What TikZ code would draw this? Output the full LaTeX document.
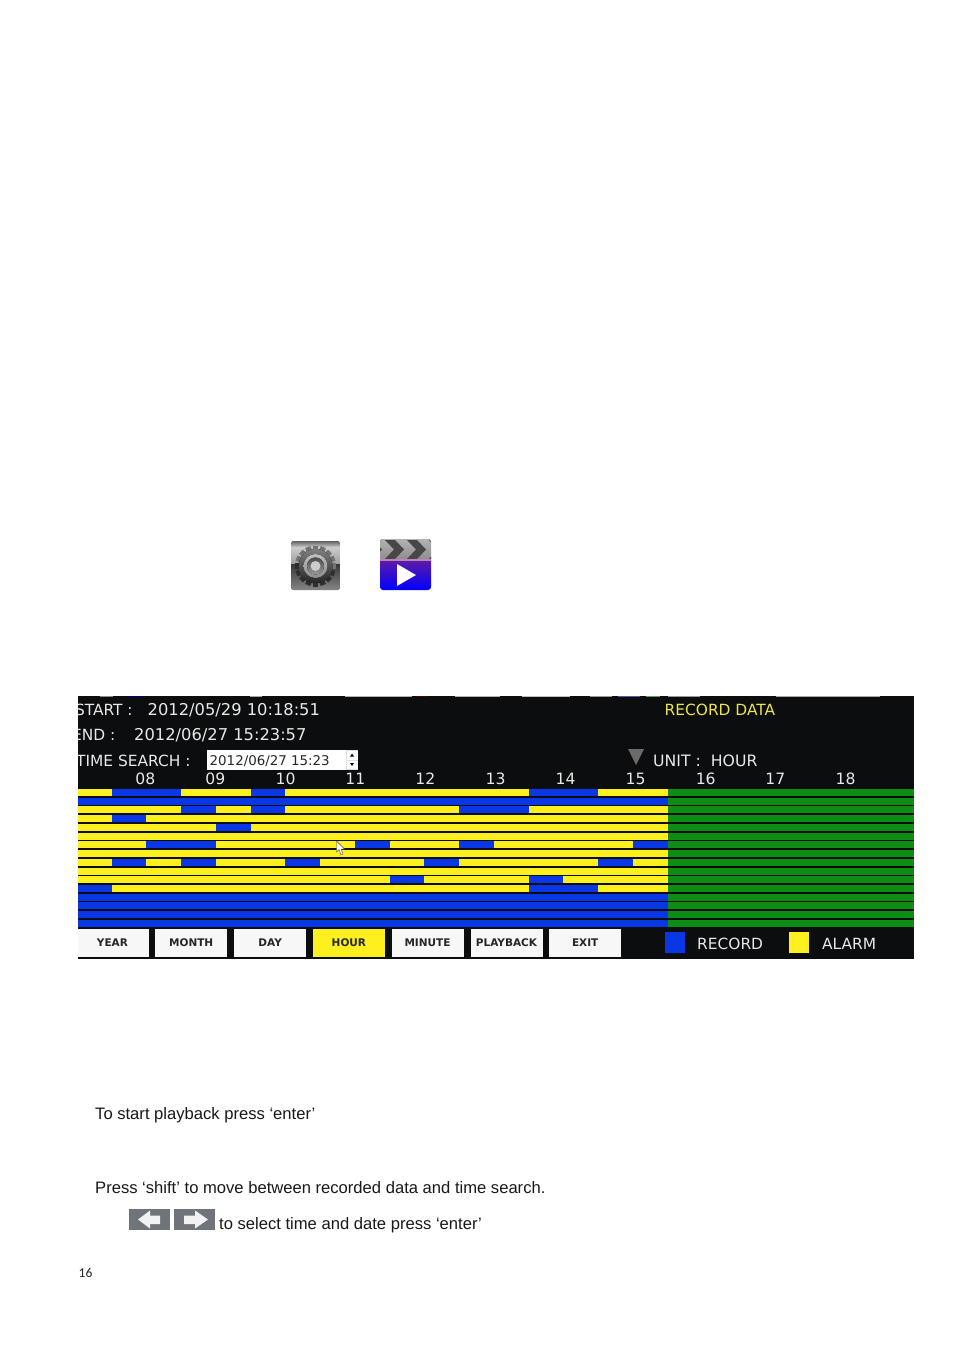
\documentclass[tikz,border=0pt]{standalone}
\usepackage{fontspec}
\setmainfont{Liberation Sans}
\newfontfamily\osd{DejaVu Sans}
\newfontfamily\pagenum{Carlito}
\definecolor{panelbg}{HTML}{0C0D0E}
\definecolor{barblue}{HTML}{0A37E6}
\definecolor{baryel}{HTML}{FDF01E}
\definecolor{bargreen}{HTML}{0E8C14}
\definecolor{osdtext}{HTML}{E8E8E8}
\definecolor{osdyel}{HTML}{EBE54A}
\definecolor{keygray}{HTML}{6E747A}
\definecolor{clappurple}{HTML}{5E1CA4}
\tikzset{
  x=1pt,y=-1pt,
  bodytext/.style={anchor=base west,inner sep=0pt,font=\fontsize{16.6}{19}\selectfont,text=black!90},
  osdlabel/.style={anchor=base west,inner sep=0pt,font=\osd\fontsize{15.4}{18}\selectfont,text=osdtext},
  osdvalue/.style={anchor=base west,inner sep=0pt,font=\osd\fontsize{16.3}{18}\selectfont,text=osdtext},
  hourlabel/.style={anchor=base,inner sep=0pt,font=\osd\fontsize{15.6}{18}\selectfont,text=osdtext},
  btn/.style={fill=white!97!black,draw=none,minimum height=28.7pt,minimum width=72pt,inner sep=0pt,anchor=north west,text=black!85,font=\osd\bfseries\fontsize{10.5}{12}\selectfont},
  keybox/.style={fill=keygray,draw=none},
  keyarrow/.style={fill=white!95!black,draw=none}
}
\newcommand{\rowy}[1]{round(789+8.73*#1)}
\newcommand{\ux}[1]{(111.7+34.75*(#1-1))}
\newcommand{\bluebar}[3]{\fill[barblue] ({max(78,\ux{#2})},{\rowy{#1}}) rectangle ({\ux{#3}},{\rowy{#1}+7.3});}
\begin{document}
\begin{tikzpicture}
\useasboundingbox (0,0) rectangle (954,1348);
\fill[white] (0,0) rectangle (954,1348);
% gear icon
\begin{scope}
\clip[rounded corners=3pt] (291,541) rectangle (340,590);
\fill[top color=black!62,bottom color=black!22] (291,541) rectangle (340,547);
\fill[top color=black!20,bottom color=black!38] (291,547) rectangle (340,564);
\fill[top color=black!78,bottom color=black!48] (291,564) rectangle (340,590);
\foreach \a in {0,22.5,...,157.5}{
  \fill[black!55,rotate around={\a-90:(315.5,566)}] (312.8,545.5) rectangle (318.2,553);
  \fill[black!82,rotate around={\a+90:(315.5,566)}] (312.8,545.5) rectangle (318.2,553);
}
\fill[top color=black!50,bottom color=black!85] (315.5,566) circle[radius=17];
\fill[top color=black!25,bottom color=black!45] (315.5,566) circle[radius=12];
\fill[top color=black!70,bottom color=black!40] (315.5,566) circle[radius=8.5];
\fill[black!20] (315.5,566) circle[radius=5];
\end{scope}
% clapper icon
\begin{scope}
\clip[rounded corners=3pt] (380,539) rectangle (431,590);
\fill[top color=black!30,bottom color=black!45] (380,539) rectangle (431,560);
\foreach \x in {363,385,407,429}{
  \fill[black!72] (\x,540) -- (\x+10,540) -- (\x+19,549.5) -- (\x+10,559) -- (\x,559) -- (\x+9,549.5) -- cycle;
}
\shade[top color=clappurple,middle color=clappurple,bottom color=blue] (380,560) rectangle (431,590);
\fill[violet!50!white] (380,559) rectangle (431,560.5);
\fill[white] (397,564) -- (416,575) -- (397,586) -- cycle;
\end{scope}
% OSD panel
\begin{scope}
\clip (78,696) rectangle (914,959);
\fill[panelbg] (78,696) rectangle (914,959);
\foreach \a/\b/\c in {100/113/black!45,128/141/blue!40!black,250/262/black!35,345/412/black!30,416/428/red!30!black,455/500/black!30,522/570/black!25,590/612/black!40,618/640/blue!30!gray,646/660/green!30!gray,668/700/black!40,776/880/black!35}{
  \fill[\c] (\a,696) rectangle (\b,697.2);
}
\node[osdlabel] (start) at (74.8,715) {START :};
\node[osdvalue] (startv) at (147.5,715) {2012/05/29 10:18:51};
\node[osdlabel] (end) at (72,740) {END :};
\node[osdvalue] (endv) at (134,740) {2012/06/27 15:23:57};
\node[osdlabel] (ts) at (76,766) {TIME SEARCH :};
\node[osdlabel,text=osdyel] (rd) at (664.5,715) {RECORD DATA};
\node[osdlabel,font=\osd\fontsize{15.7}{18}\selectfont] (unit) at (653,766) {UNIT :\ \ HOUR};
\fill[white] (206.7,750) rectangle (358,769.5);
\node[anchor=base west,inner sep=0pt,font=\osd\fontsize{13.4}{16}\selectfont,text=black!85] (tsv) at (209.5,765) {2012/06/27 15:23};
\fill[black!12] (346,750) rectangle (358,769.5);
\fill[white] (346.5,750.5) rectangle (357.5,759.5);
\fill[white] (346.5,760.5) rectangle (357.5,769);
\fill[black] (350,756.5) -- (354,756.5) -- (352,753.5) -- cycle;
\fill[black] (350,763) -- (354,763) -- (352,766) -- cycle;
\foreach \lab/\x in {08/145.3,09/215.3,10/285.5,11/355.4,12/425.4,13/495.5,14/565.5,15/635.5,16/705.7,17/775.4,18/845.5}{
  \node[hourlabel] (h\lab) at (\x,784.5) {\lab};
}
\fill[black!58] (628,749) -- (644,749) -- (636,765) -- cycle;
% bars
\foreach \r in {0,...,15}{
  \fill[baryel] (78,{\rowy{\r}}) rectangle (668,{\rowy{\r}+7.3});
  \fill[bargreen] (668,{\rowy{\r}}) rectangle (914,{\rowy{\r}+7.3});
}
\foreach \r/\a/\b in {0/1/3,0/5/6,0/13/15,1/0/17,2/3/4,2/5/6,2/11/13,3/1/2,4/4/5,
  6/2/4,6/8/9,6/11/12,6/16/17,8/1/2,8/3/4,8/6/7,8/10/11,8/15/16,10/9/10,10/13/14,
  11/0/1,11/13/15,12/0/17,13/0/17,14/0/17,15/0/17}{
  \bluebar{\r}{\a}{\b}
}
% cursor
\fill[white,draw=black!70,line width=.4pt] (336.5,841) -- (336.5,852) -- (339,849.5) -- (341,855) -- (343,854) -- (341,849) -- (344.5,849) -- cycle;
% buttons
\node[btn,minimum width=73pt] (year) at (75.7,928.3) {YEAR};
\node[btn] (month) at (155,928.3) {MONTH};
\node[btn] (day) at (234,928.3) {DAY};
\node[btn,fill=baryel] (hour) at (312.7,928.3) {HOUR};
\node[btn] (minute) at (391.3,928.3) {MINUTE};
\node[btn] (playback) at (470.3,928.3) {PLAYBACK};
\node[btn] (exit) at (549,928.3) {EXIT};
\fill[barblue] (664.5,931.7) rectangle (685,953);
\fill[baryel] (789,931.7) rectangle (809,953);
\node[osdlabel] (lrec) at (697,949) {RECORD};
\node[osdlabel] (lal) at (822,949) {ALARM};
\end{scope}
% body text
\node[bodytext] (t1) at (95,1119.3) {To start playback press ‘enter’};
\node[bodytext] (t2) at (95,1193.3) {Press ‘shift’ to move between recorded data and time search.};
\node[bodytext] (t3) at (219,1229.3) {to select time and date press ‘enter’};
\fill[keybox] (129,1209) rectangle (170,1230);
\fill[keyarrow] (138,1219.5) -- (150,1210.5) -- (150,1215.5) -- (160,1215.5) -- (160,1224) -- (150,1224) -- (150,1228.5) -- cycle;
\fill[keybox] (174,1209) rectangle (215,1230);
\fill[keyarrow] (208,1219.5) -- (195,1210.5) -- (195,1215.5) -- (184,1215.5) -- (184,1224) -- (195,1224) -- (195,1228.5) -- cycle;
\node[anchor=base west,inner sep=0pt,font=\pagenum\fontsize{13.5}{15}\selectfont,text=black!85] (pn) at (78.5,1277) {16};
\end{tikzpicture}
\end{document}
